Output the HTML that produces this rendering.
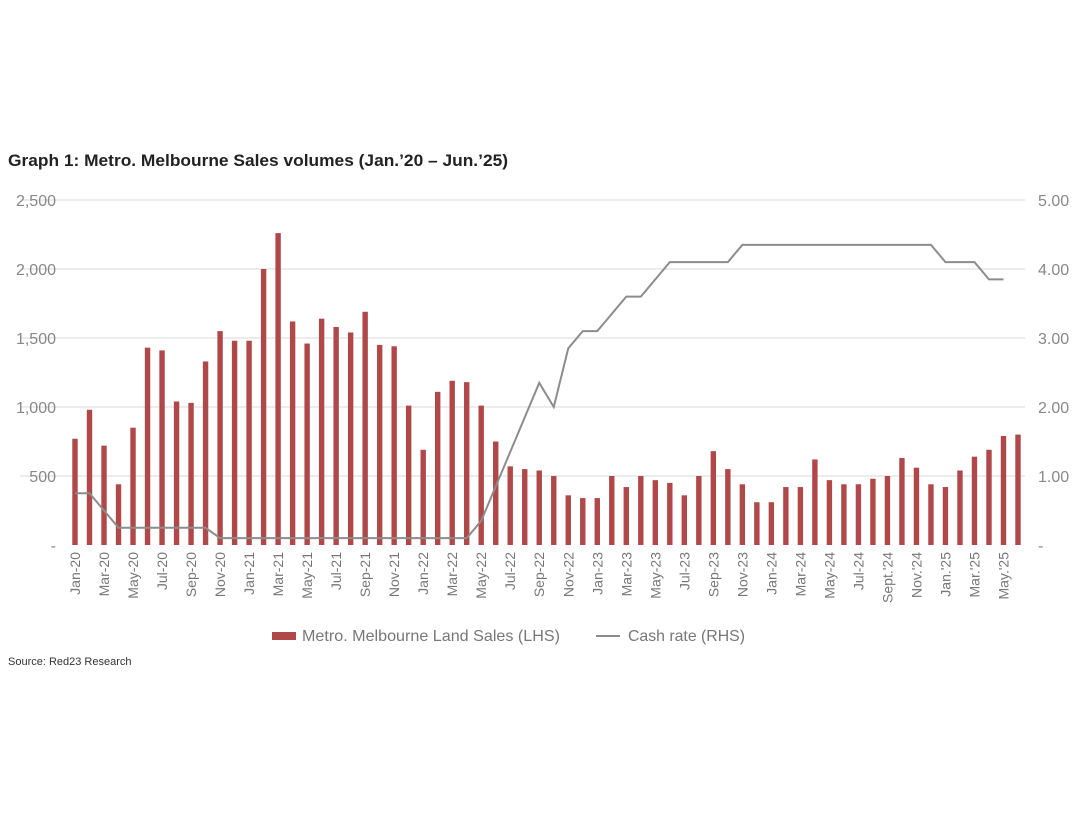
<!DOCTYPE html>
<html><head><meta charset="utf-8"><style>
body{margin:0;background:#fff;width:1080px;height:810px;overflow:hidden;font-family:"Liberation Sans",sans-serif}
</style></head><body>
<svg id="c" width="1080" height="810">
<text x="8" y="166" font-size="17" font-weight="bold" fill="#222" textLength="500" lengthAdjust="spacingAndGlyphs">Graph 1: Metro. Melbourne Sales volumes (Jan.’20 – Jun.’25)</text>
<text x="8" y="665" font-size="11" fill="#333">Source: Red23 Research</text>
<g>
<rect x="272" y="632" width="24" height="8" fill="#b0484a"></rect>
<text x="302" y="641" font-size="16" fill="#777" textLength="258" lengthAdjust="spacingAndGlyphs">Metro. Melbourne Land Sales (LHS)</text>
<line x1="596" y1="636" x2="620" y2="636" stroke="#8c8c8c" stroke-width="2"></line>
<text x="628" y="641" font-size="16" fill="#777" textLength="117" lengthAdjust="spacingAndGlyphs">Cash rate (RHS)</text>
</g>
</svg>
<script>
const months=["Jan-20","Feb-20","Mar-20","Apr-20","May-20","Jun-20","Jul-20","Aug-20","Sep-20","Oct-20","Nov-20","Dec-20","Jan-21","Feb-21","Mar-21","Apr-21","May-21","Jun-21","Jul-21","Aug-21","Sep-21","Oct-21","Nov-21","Dec-21","Jan-22","Feb-22","Mar-22","Apr-22","May-22","Jun-22","Jul-22","Aug-22","Sep-22","Oct-22","Nov-22","Dec-22","Jan-23","Feb-23","Mar-23","Apr-23","May-23","Jun-23","Jul-23","Aug-23","Sep-23","Oct-23","Nov-23","Dec-23","Jan-24","Feb-24","Mar-24","Apr-24","May-24","Jun-24","Jul-24","Aug-24","Sept.'24","Oct-24","Nov.'24","Dec-24","Jan.'25","Feb-25","Mar.'25","Apr-25","May.'25","Jun-25"];
const sales=[770,980,720,440,850,1430,1410,1040,1030,1330,1550,1480,1480,2000,2260,1620,1460,1640,1580,1540,1690,1450,1440,1010,690,1110,1190,1180,1010,750,570,550,540,500,360,340,340,500,420,500,470,450,360,500,680,550,440,310,310,420,420,620,470,440,440,480,500,630,560,440,420,540,640,690,790,800];
const cashRate=[0.75,0.75,0.5,0.25,0.25,0.25,0.25,0.25,0.25,0.25,0.1,0.1,0.1,0.1,0.1,0.1,0.1,0.1,0.1,0.1,0.1,0.1,0.1,0.1,0.1,0.1,0.1,0.1,0.35,0.85,1.35,1.85,2.35,2.0,2.85,3.1,3.1,3.35,3.6,3.6,3.85,4.1,4.1,4.1,4.1,4.1,4.35,4.35,4.35,4.35,4.35,4.35,4.35,4.35,4.35,4.35,4.35,4.35,4.35,4.35,4.1,4.1,4.1,3.85,3.85,null];
const leftTicks=[0,500,1000,1500,2000,2500];
const leftTickLabels=["-","500","1,000","1,500","2,000","2,500"];
const rightTicks=[0,1,2,3,4,5];
const rightTickLabels=["-","1.00","2.00","3.00","4.00","5.00"];
const NS="http://www.w3.org/2000/svg",svg=document.getElementById('c');
const x0=75,dx=(1018-75)/65,yb=545,yt=200,L=1025;
const yL=v=>yb-(v/2500)*(yb-yt);
const yR=v=>yb-(v/5)*(yb-yt);
const xM=i=>x0+i*dx;
function mk(t,a){const e=document.createElementNS(NS,t);for(const k in a)e.setAttribute(k,a[k]);svg.appendChild(e);return e;}
leftTicks.forEach((v,i)=>{
 if(v>0){const g=mk('line',{x1:20,x2:L,y1:yL(v),y2:yL(v),stroke:'#e6e6e6','stroke-width':1.5});
 
 }
 const t=mk('text',{x:56,y:yL(v)+6,'text-anchor':'end','font-size':16,fill:'#888'});t.textContent=leftTickLabels[i];
 
 
});
rightTicks.forEach((v,i)=>{
 const t=mk('text',{x:1038,y:yR(v)+6,'font-size':16,fill:'#888'});t.textContent=rightTickLabels[i];
 
 
});
sales.forEach((v,i)=>{
 const r=mk('rect',{x:xM(i)-2.7,y:yL(v),width:5.4,height:yb-yL(v),fill:'#b0484a'});
 
 
});
let d='';cashRate.forEach((v,i)=>{if(v!=null)d+=(d?'L':'M')+xM(i)+','+yR(v);});
const p=mk('path',{d:d,fill:'none',stroke:'#8c8c8c','stroke-width':2});


months.forEach((m,i)=>{
 if(i%2)return;
 const t=mk('text',{transform:`translate(${xM(i)+5},552) rotate(-90)`,'text-anchor':'end','font-size':14,fill:'#777'});t.textContent=m;
 
 
});
</script>
</body></html>
